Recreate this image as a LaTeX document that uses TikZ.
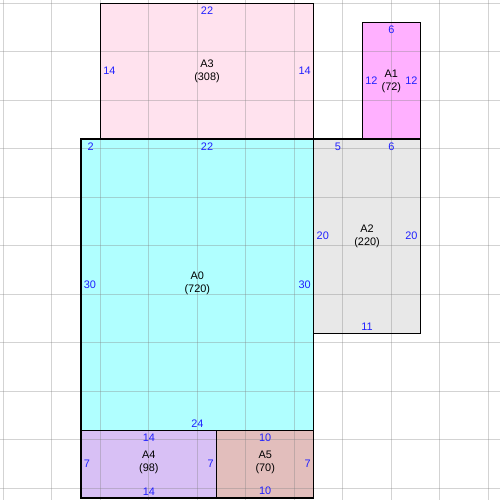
\documentclass[tikz,border=0pt]{standalone}
\usepackage{fontspec}
\setmainfont{Liberation Sans}
\definecolor{cA0}{RGB}{176,255,255}
\definecolor{cA1}{RGB}{255,176,255}
\definecolor{cA2}{RGB}{232,232,232}
\definecolor{cA3}{RGB}{255,226,238}
\definecolor{cA4}{RGB}{216,192,245}
\definecolor{cA5}{RGB}{226,190,188}
\definecolor{dimblue}{RGB}{32,32,255}
\begin{document}
\begin{tikzpicture}[x=0.25cm,y=-0.25cm,
  border/.style={draw=black,line width=0.9pt},
  gridline/.style={draw=gray,opacity=0.35,line width=0.9pt},
  dim/.style={text=dimblue,font=\fontsize{8}{9}\selectfont,inner sep=2pt},
  topdim/.style={dim,anchor=north,yshift=-0.5pt},
  botdim/.style={dim,anchor=south},
  leftdim/.style={dim,anchor=west},
  rightdim/.style={dim,anchor=east},
  nm/.style={align=center,font=\fontsize{8}{9.5}\selectfont,inner sep=0pt}]
\useasboundingbox (-0.34,-0.34) rectangle (51.2,51.2);
% fills
\fill[cA3] (10,0) rectangle (32,14);
\fill[cA1] (37,2) rectangle (43,14);
\fill[cA0] (8,14) rectangle (32,44);
\fill[cA2] (32,14) rectangle (43,34);
\fill[cA4] (8,44) rectangle (22,51);
\fill[cA5] (22,44) rectangle (32,51);
% grid
\foreach \g in {0,5,...,50} {
  \draw[gridline] (\g,-0.34) -- (\g,51.2);
  \draw[gridline] (-0.34,\g) -- (51.2,\g);
}
% borders
\draw[border] (10,0) rectangle (32,14);
\draw[border] (37,2) rectangle (43,14);
\draw[border] (8,14) rectangle (32,44);
\draw[border] (32,14) rectangle (43,34);
\draw[border] (8,44) rectangle (22,51);
\draw[border] (22,44) rectangle (32,51);
% names
\node[nm] (nA3) at (21,7) {A3\\(308)};
\node[nm] (nA1) at (40,8) {A1\\(72)};
\node[nm] (nA0) at (20,28.9) {A0\\(720)};
\node[nm] (nA2) at (37.5,24) {A2\\(220)};
\node[nm] (nA4) at (15,47.3) {A4\\(98)};
\node[nm] (nA5) at (27,47.3) {A5\\(70)};
% A3 dims
\node[topdim] (a3t) at (21,0) {22};
\node[leftdim] (a3l) at (10,7) {14};
\node[rightdim] (a3r) at (32,7) {14};
% A1 dims
\node[topdim] (a1t) at (40,2) {6};
\node[leftdim] (a1l) at (37,8) {12};
\node[rightdim] (a1r) at (43,8) {12};
% A0 dims
\node[topdim] (a0t1) at (9,14) {2};
\node[topdim] (a0t2) at (21,14) {22};
\node[leftdim] (a0l) at (8,29) {30};
\node[rightdim] (a0r) at (32,29) {30};
\node[botdim] (a0b) at (20,44) {24};
% A2 dims
\node[topdim] (a2t1) at (34.5,14) {5};
\node[topdim] (a2t2) at (40,14) {6};
\node[leftdim] (a2l) at (32,24) {20};
\node[rightdim] (a2r) at (43,24) {20};
\node[botdim] (a2b) at (37.5,34) {11};
% A4 dims
\node[topdim] (a4t) at (15,44) {14};
\node[leftdim] (a4l) at (8,47.5) {7};
\node[rightdim] (a4r) at (22,47.5) {7};
\node[botdim] (a4b) at (15,51) {14};
% A5 dims
\node[topdim] (a5t) at (27,44) {10};
\node[rightdim] (a5r) at (32,47.5) {7};
\node[botdim] (a5b) at (27,51) {10};
\end{tikzpicture}
\end{document}
